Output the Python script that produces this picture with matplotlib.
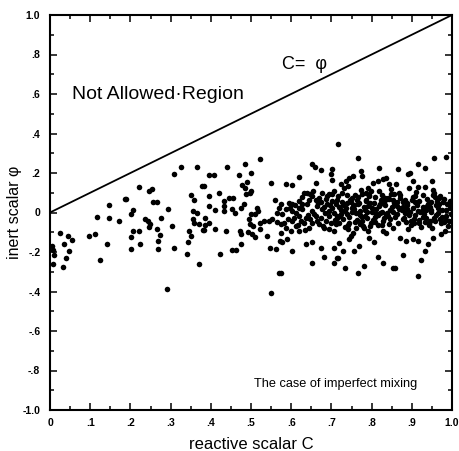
import numpy as np
import matplotlib
matplotlib.use("Agg")
import matplotlib.pyplot as plt

# Scatter samples (reactive scalar C, inert scalar phi), grouped by C range
pts_00_20 = [
    (.147, .036), (.186, .067), (.118, -.023), (.147, -.026), (.172, -.045),
    (.024, -.102), (.045, -.119), (.055, -.141), (.034, -.161), (.005, -.170),
    (.007, -.191), (.047, -.195), (.039, -.232), (.007, -.262), (.032, -.276),
    (.096, -.121), (.111, -.107), (.141, -.158), (.124, -.242), (.010, -.215),
    (.189, .067), (.201, -.006), (.207, .011),
]
pts_20_40 = [
    (.325, .230), (.365, .230), (.308, .193), (.221, .131), (.246, .109),
    (.253, .117), (.379, .134), (.257, .055), (.267, .055), (.294, .016),
    (.350, .087), (.358, .062), (.355, .008), (.365, -.001), (.236, -.031),
    (.245, -.043), (.249, -.057), (.246, -.073), (.275, -.026), (.303, -.068),
    (.265, -.085), (.356, -.034), (.358, -.052), (.371, -.057), (.381, -.090),
    (.207, -.094), (.221, -.094), (.201, -.124), (.274, -.114), (.269, -.144),
    (.347, -.094), (.350, -.119), (.344, -.148), (.224, -.158), (.201, -.183),
    (.268, -.186), (.309, -.178), (.342, -.209), (.371, -.262), (.292, -.386),
    (.396, .188), (.395, .084), (.395, .033), (.386, -.026), (.395, -.052),
    (.385, -.063), (.382, -.090), (.382, .134),
]
pts_40_58 = [
    (.523, .269), (.486, .247), (.440, .230), (.501, .202), (.409, .190),
    (.469, .190), (.550, .151), (.490, .154), (.478, .138), (.484, .126),
    (.488, .092), (.497, .100), (.500, .109), (.421, .097), (.445, .075),
    (.455, .072), (.434, .058), (.434, .033), (.434, .008), (.411, .011),
    (.482, .042), (.476, .024), (.453, .016), (.459, -.001), (.559, .062),
    (.515, .024), (.517, .008), (.511, -.006), (.500, -.009), (.569, .024),
    (.565, -.001), (.410, -.082), (.494, -.034), (.498, -.060), (.504, -.068),
    (.523, -.052), (.532, -.043), (.544, -.043), (.552, -.034), (.565, -.047),
    (.575, -.057), (.523, -.085), (.439, -.094), (.473, -.094), (.476, -.110),
    (.493, -.097), (.502, -.110), (.511, -.124), (.540, -.119), (.476, -.161),
    (.453, -.191), (.463, -.191), (.424, -.212), (.548, -.178), (.562, -.186),
    (.573, -.144), (.570, -.305), (.550, -.406),
]
pts_58_72 = [
    (.652, .244), (.659, .230), (.673, .214), (.702, .219), (.698, .193),
    (.702, .163), (.619, .180), (.586, .143), (.603, .139), (.661, .151),
    (.640, .100), (.648, .092), (.677, .100), (.694, .095), (.706, .109),
    (.574, .042), (.595, .050), (.603, .042), (.619, .058), (.628, .042),
    (.582, -.052), (.603, -.043), (.611, -.068), (.586, -.077), (.574, -.102),
    (.619, -.094), (.599, -.094), (.578, -.148), (.590, -.136), (.636, -.161),
    (.652, -.148), (.673, -.178), (.603, -.195), (.706, -.178), (.682, -.225),
    (.652, -.254), (.715, -.229), (.706, -.254), (.574, -.305), (.716, .348),
    (.632, .100), (.652, .084), (.669, .075), (.686, .067), (.702, .058),
    (.711, .042), (.665, .033), (.677, .016), (.694, .008), (.706, -.001),
    (.715, -.026), (.652, .008), (.661, -.018), (.673, -.026), (.686, -.043),
    (.698, -.052), (.711, -.060), (.669, -.060), (.652, -.052), (.682, -.077),
    (.694, -.085), (.706, -.094), (.636, -.026), (.632, -.052), (.644, -.077),
    (.619, -.018), (.611, -.001), (.586, .016), (.578, -.009), (.607, -.026),
    (.640, .042), (.619, .024), (.690, .042), (.702, .092),
    (.598, .021), (.624, -.041), (.645, .063), (.657, -.008), (.628, .077),
    (.681, .029), (.663, -.044), (.693, -.017), (.609, .038), (.674, .054),
    (.641, -.011), (.688, .083), (.617, -.063), (.701, .022), (.655, .109),
    (.635, -.088), (.667, .047), (.708, -.038), (.591, -.031), (.679, -.067),
    (.603, .008), (.626, .019), (.648, -.031), (.662, .061), (.684, -.004),
    (.697, .037), (.713, -.019),
]
pts_72_86 = [
    (.765, .277), (.819, .227), (.774, .210), (.776, .185), (.745, .176),
    (.753, .185), (.803, .151), (.815, .159), (.828, .168), (.836, .176),
    (.724, .143), (.736, .159), (.790, .126), (.786, .100), (.844, .143),
    (.848, .092), (.844, .067), (.741, -.085), (.753, -.102), (.749, -.119),
    (.745, -.136), (.790, -.094), (.794, -.131), (.807, -.148), (.828, -.094),
    (.836, -.102), (.852, -.077), (.720, -.153), (.728, -.195), (.757, -.195),
    (.769, -.170), (.716, -.229), (.815, -.225), (.828, -.254), (.735, -.283),
    (.781, -.271), (.765, -.305), (.852, -.279),
    (.713, .064), (.736, .021), (.721, -.018), (.748, .053), (.727, .097),
    (.758, -.047), (.733, .008), (.767, .042), (.741, -.061), (.716, .083),
    (.762, -.003), (.729, -.032), (.752, .071), (.774, .113), (.744, -.055),
    (.719, .027), (.771, -.014), (.738, .088), (.756, .036), (.779, -.069),
    (.725, .015), (.763, -.038), (.746, .062), (.731, .124), (.777, -.022),
    (.754, .031), (.718, -.052), (.769, .047), (.742, .136), (.760, -.081),
    (.734, -.073), (.775, .095), (.750, .004), (.723, -.006), (.765, .076),
    (.739, .048), (.757, .017), (.728, .039), (.772, .009), (.745, -.024),
    (.786, .058), (.812, -.009), (.794, .091), (.829, -.043), (.801, .024),
    (.841, .072), (.789, -.027), (.818, .108), (.853, .001), (.796, -.066),
    (.834, .038), (.808, .079), (.847, -.035), (.783, .012), (.823, .061),
    (.799, -.051), (.856, .094), (.815, -.014), (.791, .034), (.838, .067),
    (.804, -.039), (.826, .005), (.849, .117), (.781, -.076), (.832, .052),
    (.811, .019), (.858, -.021), (.793, .083), (.844, -.058), (.821, .043),
    (.802, .003), (.836, -.011), (.787, .064), (.851, .029), (.816, -.062),
    (.798, .107), (.839, -.001), (.827, .087), (.809, -.047), (.855, .046),
    (.784, -.017), (.846, .013), (.819, .031), (.831, -.028), (.806, .049),
    (.727, .051), (.739, -.009), (.751, .022), (.763, .061), (.776, -.041),
    (.788, .003), (.797, .046), (.809, -.024), (.822, -.003), (.833, .071),
    (.842, -.019), (.854, .062), (.782, .029), (.771, -.056), (.758, .091),
    (.826, -.063),
]
pts_86_100 = [
    (.954, .274), (.986, .281), (.915, .247), (.932, .227), (.866, .219),
    (.891, .196), (.950, .159), (.903, .159), (.915, .129), (.932, .129),
    (.953, .112), (.969, .084), (.861, .143), (.870, -.131), (.886, -.144),
    (.903, -.136), (.915, -.144), (.953, -.128), (.973, -.110), (.982, -.094),
    (.940, -.161), (.932, -.195), (.878, -.217), (.924, -.242), (.857, -.279),
    (.915, -.322), (.896, .202),
    (.864, .033), (.897, -.041), (.871, .088), (.926, .006), (.882, .063),
    (.944, -.064), (.868, .017), (.911, .106), (.959, -.012), (.887, .049),
    (.973, -.055), (.903, .077), (.876, .011), (.935, -.027), (.893, .125),
    (.918, .058), (.951, -.079), (.879, .029), (.966, -.004), (.907, .085),
    (.885, -.046), (.940, .044), (.921, .001), (.899, -.063), (.981, .069),
    (.874, .022), (.929, -.023), (.956, .101), (.914, .047), (.891, -.086),
    (.947, .014), (.968, .074), (.905, -.033), (.937, .031), (.862, -.008),
    (.977, .052), (.924, -.074), (.953, .091), (.889, .016), (.933, -.047),
    (.961, .037), (.916, .009), (.984, -.018), (.901, .061), (.942, -.059),
    (.871, .071), (.964, .023), (.909, -.015), (.988, .043), (.928, .087),
    (.881, -.029), (.949, .002), (.993, -.041), (.912, .036), (.971, -.033),
    (.896, .004), (.939, .068), (.958, -.045), (.866, -.054), (.986, .011),
    (.919, -.053), (.995, .057), (.878, .051), (.946, .026), (.997, -.007),
    (.931, -.009), (.975, .015), (.902, .021), (.962, .058), (.991, -.068),
    (.883, -.001), (.955, -.026), (.979, -.049), (.998, .031),
    (.863, .053), (.877, -.032), (.888, .036), (.894, -.011), (.908, .054),
    (.917, -.036), (.927, .028), (.936, .012), (.945, -.041), (.957, .078),
    (.967, .041), (.976, -.021), (.985, -.036), (.996, .021), (.867, .097),
    (.948, .053), (.905, -.051),
]

x_ticks = [0, .1, .2, .3, .4, .5, .6, .7, .8, .9, 1.0]
x_tick_labels = ["0", ".1", ".2", ".3", ".4", ".5", ".6", ".7", ".8", ".9", "1.0"]
y_ticks = [-1.0, -.8, -.6, -.4, -.2, 0, .2, .4, .6, .8, 1.0]
y_tick_labels = ["-1.0", "-.8", "-.6", "-.4", "-.2", "0", ".2", ".4", ".6", ".8", "1.0"]

all_pts = np.array(pts_00_20 + pts_20_40 + pts_40_58 + pts_58_72 + pts_72_86 + pts_86_100)

plt.rcParams["font.family"] = ["Liberation Sans", "DejaVu Sans"]

fig = plt.figure(figsize=(4.59, 4.51), dpi=100)
ax = fig.add_axes([50 / 459, 41 / 451, 402 / 459, 395 / 451])

ax.scatter(all_pts[:, 0], all_pts[:, 1], s=16, c="black", linewidths=0, zorder=3)
ax.plot([0, 1], [0, 1], color="black", lw=1.3)

ax.set_xlim(0, 1)
ax.set_ylim(-1, 1)
ax.set_xticks(x_ticks)
ax.set_xticklabels(x_tick_labels)
ax.set_yticks(y_ticks)
ax.set_yticklabels(y_tick_labels)
ax.set_xticks(np.arange(0.05, 1.0, 0.1), minor=True)
ax.set_yticks(np.arange(-0.9, 1.0, 0.2), minor=True)
ax.tick_params(which="both", direction="in", top=True, right=True, width=1.1)
ax.tick_params(which="major", length=5, labelsize=7.5)
ax.tick_params(which="minor", length=3)
ax.tick_params(axis="x", pad=6)
ax.tick_params(axis="y", pad=7)
for lbl in ax.get_xticklabels() + ax.get_yticklabels():
    lbl.set_fontweight("bold")
for sp in ax.spines.values():
    sp.set_linewidth(1.5)

ax.set_xlabel("reactive scalar C", fontsize=12)
ax.xaxis.set_label_coords(0.5, -0.068)
ax.set_ylabel("inert scalar \u03c6", fontsize=11.5)
ax.yaxis.set_label_coords(-0.07, 0.5)

ax.text(0.055, 0.595, "Not Allowed\u00b7Region", fontsize=14, va="center")
ax.text(0.578, 0.75, "C=  \u03c6", fontsize=13, va="center")
ax.text(0.508, -0.87, "The case of imperfect mixing", fontsize=9.2, va="center")

fig.savefig("out.png", dpi=100)
